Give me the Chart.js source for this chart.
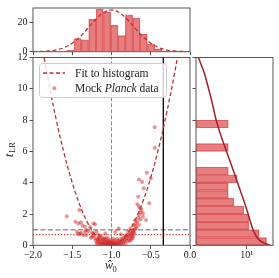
<!DOCTYPE html>
<html>
<head>
<meta charset="utf-8">
<script src="https://cdn.jsdelivr.net/npm/chart.js@4.4.0/dist/chart.umd.min.js"></script>
<style>
  html, body { margin: 0; padding: 0; background: #fff; }
  #wrap { position: relative; width: 279px; height: 278px; }
  #wrap canvas { position: absolute; left: 0; top: 0; }
</style>
</head>
<body>
<div id="wrap">
  <canvas id="topHist" width="279" height="278"></canvas>
  <canvas id="main" width="279" height="278"></canvas>
  <canvas id="sideHist" width="279" height="278"></canvas>
</div>
<script>
// ---- data ----
// top histogram of w0-hat (bin centres, counts)
const topCenters = [-1.525, -1.431, -1.338, -1.244, -1.151, -1.057, -0.964, -0.870, -0.777, -0.683, -0.590, -0.496, -0.403];
const topCounts  = [1, 9, 8, 22, 29, 27, 18, 11, 25, 23, 12, 5, 2];

// gaussian fit drawn over the top histogram
const gaussW = [-2.0, -1.9, -1.8, -1.7, -1.6, -1.5, -1.4, -1.3, -1.2, -1.1, -1.0, -0.9, -0.8, -0.7, -0.6, -0.5, -0.4, -0.3, -0.2, -0.1, 0.0];
const gaussN = [0.0, 0.16, 0.48, 1.25, 2.86, 5.8, 10.2, 16.0, 22.0, 26.6, 28.4, 26.6, 22.0, 16.0, 10.2, 5.8, 2.86, 1.25, 0.48, 0.16, 0.0];

// fit to histogram in the t_LR plane
const fitW = [-1.9, -1.8, -1.7, -1.6, -1.5, -1.4, -1.3, -1.2, -1.1, -1.0, -0.9, -0.8, -0.7, -0.6, -0.5, -0.4, -0.3, -0.2, -0.1];
const fitT = [13.2, 10.4, 7.93, 5.80, 4.00, 2.53, 1.40, 0.60, 0.13, 0.0, 0.20, 0.73, 1.60, 2.80, 4.33, 6.20, 8.40, 10.9, 13.8];

// mock Planck data points [w0-hat, t_LR]
const planckPts = [
  [-1.57,1.85],[-1.41,2.25],[-1.46,1.51],[-1.42,1.40],[-1.39,1.47],[-1.37,1.27],[-1.21,1.34],[-1.23,1.40],
  [-1.34,1.19],[-1.32,0.98],[-1.27,1.15],[-1.44,0.85],[-1.40,0.72],[-1.42,0.72],[-1.39,0.80],[-1.36,0.66],
  [-1.34,0.87],[-1.32,0.66],[-1.30,0.90],[-1.25,0.80],[-1.23,0.59],[-1.26,0.49],[-1.19,0.87],[-1.17,0.66],
  [-1.21,0.45],[-1.23,0.77],[-1.25,0.55],[-1.15,0.55],[-1.10,0.45],
  [-1.20,0.30],[-1.18,0.22],[-1.16,0.42],[-1.15,0.15],[-1.14,0.33],[-1.13,0.10],[-1.12,0.25],[-1.11,0.38],
  [-1.19,0.12],[-1.17,0.05],[-1.15,0.62],[-1.13,0.50],[-1.12,0.04],[-1.10,0.12],[-1.10,0.28],[-1.16,0.25],
  [-1.14,0.08],[-1.18,0.40],
  [-1.09,0.06],[-1.08,0.20],[-1.07,0.02],[-1.07,0.13],[-1.06,0.28],[-1.05,0.05],[-1.05,0.17],[-1.04,0.09],
  [-1.04,0.38],[-1.03,0.02],[-1.03,0.24],[-1.02,0.11],[-1.01,0.04],[-1.01,0.19],[-1.00,0.01],[-1.00,0.09],
  [-0.99,0.28],[-0.99,0.03],[-0.98,0.14],[-0.97,0.07],[-0.97,0.21],[-0.96,0.02],[-0.96,0.33],[-0.95,0.11],
  [-1.08,0.42],[-1.06,0.48],[-1.02,0.33],[-0.98,0.42],[-1.08,0.75],[-1.09,0.30],[-1.06,0.10],[-1.02,0.16],
  [-0.99,0.12],[-1.04,0.22],
  [-0.94,0.05],[-0.94,0.19],[-0.93,0.09],[-0.92,0.29],[-0.92,0.02],[-0.91,0.14],[-0.90,0.24],[-0.90,0.05],
  [-0.89,0.38],[-0.88,0.11],[-0.88,0.21],[-0.87,0.31],[-0.86,0.07],[-0.86,0.44],[-0.85,0.17],[-0.84,0.27],
  [-0.84,0.49],[-0.83,0.37],[-0.82,0.14],[-0.82,0.58],[-0.81,0.44],[-0.80,0.29],[-0.91,1.08],[-0.95,0.87],
  [-0.88,0.70],[-0.93,0.40],
  [-0.79,0.53],[-0.78,0.68],[-0.78,0.39],[-0.77,0.61],[-0.76,0.84],[-0.75,0.49],[-0.74,0.71],[-0.73,0.94],
  [-0.72,0.59],[-0.71,0.79],[-0.70,1.04],[-0.77,0.27],[-0.75,0.34],[-0.73,0.45],[-0.72,0.85],[-0.74,0.60],
  [-0.81,0.66],[-0.79,0.87],[-0.74,0.77],[-0.72,0.98],[-0.76,1.08],[-0.69,1.23],[-0.72,1.30],[-0.67,1.51],
  [-0.56,1.61],[-0.63,1.66],[-0.60,1.83],[-0.65,1.93],[-0.60,2.04],[-0.62,2.25],[-0.65,2.46],[-0.67,2.62],
  [-0.52,2.68],[-0.63,2.36],[-0.66,3.10],[-0.59,3.64],[-0.65,4.21],[-0.50,4.27],[-0.61,4.05],[-0.55,4.63],
  [-0.69,1.40],[-0.66,1.75],[-0.63,2.10],[-0.68,1.10],[-0.65,1.30],[-0.70,1.60],
  [-0.45,7.55],[-0.45,6.23]
];

// reference lines
const wTrue = -1.0;
const wCut = -0.34;
const tOne = 1.0;
const tDotted = 0.68;

// side histogram of t_LR (bin centres, counts, log axis)
const sideCenters = [0.25, 0.75, 1.25, 1.75, 2.25, 2.75, 3.25, 3.75, 4.25, 4.75, 6.25, 7.75];
const sideCounts  = [120, 48, 13, 13, 7, 2, 1, 1, 3, 1, 1, 1];

// chi-square curve on the side panel
const chiT = [12, 11, 10, 9, 8, 7, 6, 5, 4, 3, 2.5, 2, 1.5, 1, 0.75, 0.5, 0.3, 0.15, 0.05, 0];
const chiN = [0.024, 0.05, 0.085, 0.14, 0.22, 0.4, 0.8, 1.6, 3.2, 6.3, 8.8, 12, 16, 22, 28, 37, 52, 85, 140, 190];

const sideMin = 0.0176;
const sideMax = 269;

// ---- styling ----
const SERIF = "'Liberation Serif', 'Times New Roman', serif";
const SPINE = '#555';
const TEXT = '#222';
const barFill = 'rgba(214,39,40,0.6)';
const barEdge = 'rgba(214,39,40,0.55)';
const fitRed = '#b8323a';

Chart.defaults.font.family = SERIF;
Chart.defaults.color = TEXT;
Chart.defaults.animation = false;

const frame = {
  id: 'frame',
  afterDraw(chart) {
    const { ctx, chartArea: a } = chart;
    ctx.save();
    ctx.strokeStyle = SPINE;
    ctx.lineWidth = 1;
    ctx.strokeRect(a.left, a.top, a.right - a.left, a.bottom - a.top);
    ctx.restore();
  }
};

function tickGrid() {
  return { display: true, drawOnChartArea: false, drawTicks: true, tickLength: 3.5, color: SPINE, lineWidth: 1 };
}

function minus(v) {
  return (v < 0 ? '\u2212' : '') + Math.abs(v).toFixed(1);
}

// ---- top histogram ----
new Chart(document.getElementById('topHist'), {
  type: 'bar',
  data: {
    datasets: [
      {
        type: 'line',
        data: gaussW.map((w, i) => ({ x: w, y: gaussN[i] })),
        borderColor: fitRed,
        borderWidth: 1.3,
        borderDash: [4, 2.5],
        pointRadius: 0,
        tension: 0.4,
        order: 1
      },
      {
        data: topCenters.map((c, i) => ({ x: c, y: topCounts[i] })),
        backgroundColor: barFill,
        borderColor: barEdge,
        borderWidth: 0.6,
        barPercentage: 1,
        categoryPercentage: 1,
        order: 2
      }
    ]
  },
  options: {
    responsive: false,
    devicePixelRatio: 1,
    layout: { padding: { left: 0, right: 89, top: 4.7, bottom: 222.3 } },
    plugins: { legend: { display: false }, tooltip: { enabled: false } },
    scales: {
      x: {
        type: 'linear', min: -2, max: 0, offset: false,
        grid: Object.assign(tickGrid(), { offset: false }),
        border: { display: false },
        ticks: { display: false, stepSize: 0.5 },
        afterFit(s) { s.height = 4; }
      },
      y: {
        min: 0, max: 29.7,
        grid: tickGrid(),
        border: { display: false },
        ticks: { font: { size: 10 }, padding: 2 },
        afterBuildTicks(s) { s.ticks = [{ value: 0 }, { value: 20 }]; },
        afterFit(s) { s.width = 33; }
      }
    }
  },
  plugins: [frame]
});

// ---- main panel ----
const mainDeco = {
  id: 'mainDeco',
  afterDraw(chart) {
    const ctx = chart.ctx;
    ctx.save();
    // legend box
    const x0 = 39.5, y0 = 63.5, w = 127, h = 34, r = 3;
    ctx.beginPath();
    ctx.moveTo(x0 + r, y0);
    ctx.arcTo(x0 + w, y0, x0 + w, y0 + h, r);
    ctx.arcTo(x0 + w, y0 + h, x0, y0 + h, r);
    ctx.arcTo(x0, y0 + h, x0, y0, r);
    ctx.arcTo(x0, y0, x0 + w, y0, r);
    ctx.closePath();
    ctx.fillStyle = 'rgba(255,255,255,0.8)';
    ctx.fill();
    ctx.strokeStyle = '#cccccc';
    ctx.lineWidth = 1;
    ctx.stroke();

    ctx.strokeStyle = fitRed;
    ctx.lineWidth = 1.3;
    ctx.setLineDash([4, 2.5]);
    ctx.beginPath();
    ctx.moveTo(43, 73);
    ctx.lineTo(65, 73);
    ctx.stroke();
    ctx.setLineDash([]);

    ctx.fillStyle = 'rgba(214,39,40,0.5)';
    ctx.beginPath();
    ctx.arc(54.3, 88.3, 2, 0, Math.PI * 2);
    ctx.fill();

    ctx.fillStyle = TEXT;
    ctx.textBaseline = 'alphabetic';
    ctx.font = '11.5px ' + SERIF;
    ctx.fillText('Fit to histogram', 75, 76.5);
    let x = 75;
    ctx.fillText('Mock ', x, 92);
    x += ctx.measureText('Mock ').width;
    ctx.font = 'italic 11.5px ' + SERIF;
    ctx.fillText('Planck', x, 92);
    x += ctx.measureText('Planck').width;
    ctx.font = '11.5px ' + SERIF;
    ctx.fillText(' data', x, 92);

    // x axis title
    ctx.font = 'italic 12px ' + SERIF;
    ctx.fillText('\u0175', 105, 269);
    ctx.font = '8.5px ' + SERIF;
    ctx.fillText('0', 112.5, 271.5);

    // y axis title
    ctx.translate(13, 150);
    ctx.rotate(-Math.PI / 2);
    ctx.font = 'italic 12px ' + SERIF;
    ctx.fillText('t', -7, 0);
    ctx.font = '8.5px ' + SERIF;
    ctx.fillText('LR', -3, 2);
    ctx.restore();
  }
};

new Chart(document.getElementById('main'), {
  type: 'scatter',
  data: {
    datasets: [
      {
        data: planckPts.map(p => ({ x: p[0], y: p[1] })),
        backgroundColor: 'rgba(214,39,40,0.5)',
        borderWidth: 0,
        pointRadius: 2,
        order: 1
      },
      {
        type: 'line',
        data: fitW.map((w, i) => ({ x: w, y: fitT[i] })),
        borderColor: fitRed,
        borderWidth: 1.3,
        borderDash: [4, 2.5],
        pointRadius: 0,
        tension: 0.4,
        order: 2
      },
      {
        type: 'line',
        data: [{ x: wTrue, y: 0 }, { x: wTrue, y: 12 }],
        borderColor: '#8a8a8a', borderWidth: 1, borderDash: [4, 2],
        pointRadius: 0, order: 3
      },
      {
        type: 'line',
        data: [{ x: wCut, y: 0 }, { x: wCut, y: 12 }],
        borderColor: '#111', borderWidth: 1.4,
        pointRadius: 0, order: 3
      },
      {
        type: 'line',
        data: [{ x: -2, y: tOne }, { x: 0, y: tOne }],
        borderColor: '#999', borderWidth: 1.5, borderDash: [5, 2.5],
        pointRadius: 0, order: 3
      },
      {
        type: 'line',
        data: [{ x: -2, y: tDotted }, { x: 0, y: tDotted }],
        borderColor: '#d0343a', borderWidth: 1.2, borderDash: [1.3, 1.8],
        pointRadius: 0, order: 3
      }
    ]
  },
  options: {
    responsive: false,
    devicePixelRatio: 1,
    layout: { padding: { left: 0, right: 89, top: 57.5, bottom: 12.7 } },
    plugins: { legend: { display: false }, tooltip: { enabled: false } },
    scales: {
      x: {
        min: -2, max: 0,
        grid: tickGrid(),
        border: { display: false },
        ticks: { stepSize: 0.5, font: { size: 10 }, padding: 1, maxRotation: 0, callback: v => minus(v) },
        afterFit(s) { s.height = 20; }
      },
      y: {
        min: 0, max: 12,
        grid: tickGrid(),
        border: { display: false },
        ticks: { stepSize: 2, font: { size: 10 }, padding: 2 },
        afterFit(s) { s.width = 33; }
      }
    }
  },
  plugins: [mainDeco, frame]
});

// ---- side histogram ----
new Chart(document.getElementById('sideHist'), {
  type: 'bar',
  data: {
    datasets: [
      {
        type: 'line',
        indexAxis: 'y',
        data: chiT.map((t, i) => ({ x: chiN[i], y: t })),
        borderColor: '#a3202a',
        borderWidth: 1.5,
        pointRadius: 0,
        tension: 0.3,
        order: 1
      },
      {
        indexAxis: 'y',
        data: sideCenters.map((c, i) => ({ y: c, x: [sideMin, sideCounts[i]] })),
        backgroundColor: barFill,
        borderColor: barEdge,
        borderWidth: 0.6,
        borderSkipped: false,
        barPercentage: 1,
        categoryPercentage: 1,
        order: 2
      }
    ]
  },
  options: {
    indexAxis: 'y',
    responsive: false,
    devicePixelRatio: 1,
    layout: { padding: { left: 0, right: 6, top: 57.5, bottom: 12.7 } },
    plugins: { legend: { display: false }, tooltip: { enabled: false } },
    scales: {
      x: {
        type: 'logarithmic', min: sideMin, max: sideMax,
        grid: tickGrid(),
        border: { display: false },
        ticks: { font: { size: 10 }, padding: 1, maxRotation: 0, callback: () => '10\u00B9' },
        afterBuildTicks(s) { s.ticks = [{ value: 10 }]; },
        afterFit(s) { s.height = 20; }
      },
      y: {
        type: 'linear', min: 0, max: 12, offset: false,
        grid: Object.assign(tickGrid(), { offset: false }),
        border: { display: false },
        ticks: { display: false, stepSize: 2 },
        afterFit(s) { s.width = 196; }
      }
    }
  },
  plugins: [frame]
});
</script>
</body>
</html>
